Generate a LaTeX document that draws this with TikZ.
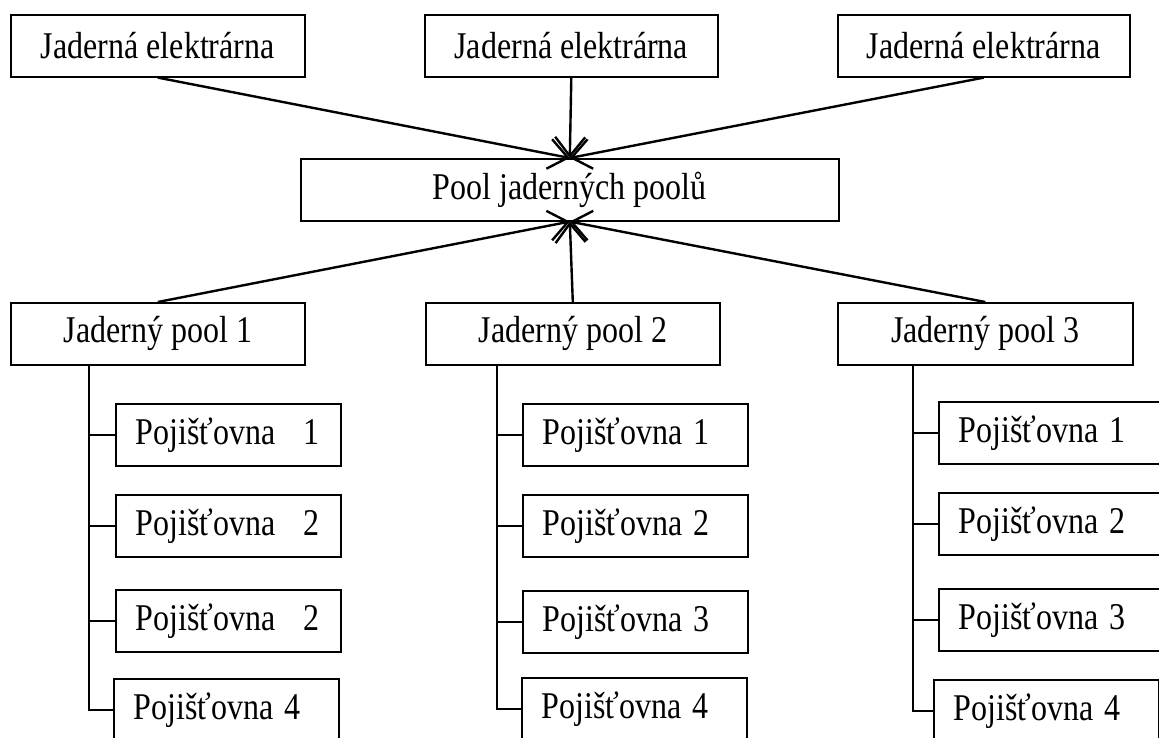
\documentclass[tikz,border=0pt]{standalone}
\usepackage{graphicx}
\usepackage{fontspec}
\setmainfont{Liberation Serif}
\usetikzlibrary{arrows.meta,calc}
\newcommand{\tall}[1]{\scalebox{1}[1.18]{#1}}
\begin{document}
\begin{tikzpicture}[x=1pt,y=-1pt,
  box/.style={draw, line width=1.6pt, minimum height=62pt, inner sep=0pt, anchor=north west,
    font=\fontsize{32}{38}\selectfont},
  insbox/.style={box, text width=185pt, inner xsep=20pt, align=left},
  arr/.style={line width=2.4pt, -{Straight Barb[length=19pt,width=30pt,line width=2.4pt]}},
  tree/.style={line width=1.6pt}]
\useasboundingbox (0,0) rectangle (1159,738);
\clip (0,0) rectangle (1159,738);
% top row
\node[box, minimum width=294pt] (e1) at (10,14) {\tall{Jaderná elektrárna}};
\node[box, minimum width=293pt] (e2) at (424,14) {\tall{Jaderná elektrárna}};
\node[box, minimum width=292pt] (e3) at (837,14) {\tall{Jaderná elektrárna}};
% centre
\node[box, minimum width=538pt] (pool) at (300,158) {\tall{Pool jaderných poolů}};
% pools
\node[box, minimum width=294pt] (p1) at (10,302) {\tall{Jaderný pool 1}};
\node[box, minimum width=294pt] (p2) at (425,302) {\tall{Jaderný pool 2}};
\node[box, minimum width=295pt] (p3) at (837,302) {\tall{Jaderný pool 3}};
% arrows
\draw[arr] (e1.south) -- (pool.north);
\draw[arr] (e2.south) -- (pool.north);
\draw[arr] (e3.south) -- (pool.north);
\draw[arr] (p1.north) -- (pool.south);
\draw[arr] (p2.north) -- (pool.south);
\draw[arr] (p3.north) -- (pool.south);
% column 1
\node[insbox] (a1) at (115,403) {\tall{Pojišťovna\hspace{28pt}1}};
\node[insbox] (a2) at (115,494) {\tall{Pojišťovna\hspace{28pt}2}};
\node[insbox] (a3) at (115,589) {\tall{Pojišťovna\hspace{28pt}2}};
\node[insbox] (a4) at (113,678) {\tall{Pojišťovna 4}};
\coordinate (t1) at ($(p1.south west)+(79,0)$);
\draw[tree] (t1) |- (a4.west);
\draw[tree] (a1.west) -- (a1.west -| t1);
\draw[tree] (a2.west) -- (a2.west -| t1);
\draw[tree] (a3.west) -- (a3.west -| t1);
% column 2
\node[insbox] (b1) at (522,403) {\tall{Pojišťovna 1}};
\node[insbox] (b2) at (522,494) {\tall{Pojišťovna 2}};
\node[insbox] (b3) at (522,590) {\tall{Pojišťovna 3}};
\node[insbox] (b4) at (521,677) {\tall{Pojišťovna 4}};
\coordinate (t2) at ($(p2.south west)+(72,0)$);
\draw[tree] (t2) |- (b4.west);
\draw[tree] (b1.west) -- (b1.west -| t2);
\draw[tree] (b2.west) -- (b2.west -| t2);
\draw[tree] (b3.west) -- (b3.west -| t2);
% column 3
\node[insbox] (c1) at (938,401) {\tall{Pojišťovna 1}};
\node[insbox] (c2) at (938,492) {\tall{Pojišťovna 2}};
\node[insbox] (c3) at (938,588) {\tall{Pojišťovna 3}};
\node[insbox] (c4) at (933,679) {\tall{Pojišťovna 4}};
\coordinate (t3) at ($(p3.south west)+(76,0)$);
\draw[tree] (t3) |- (c4.west);
\draw[tree] (c1.west) -- (c1.west -| t3);
\draw[tree] (c2.west) -- (c2.west -| t3);
\draw[tree] (c3.west) -- (c3.west -| t3);
\end{tikzpicture}
\end{document}
